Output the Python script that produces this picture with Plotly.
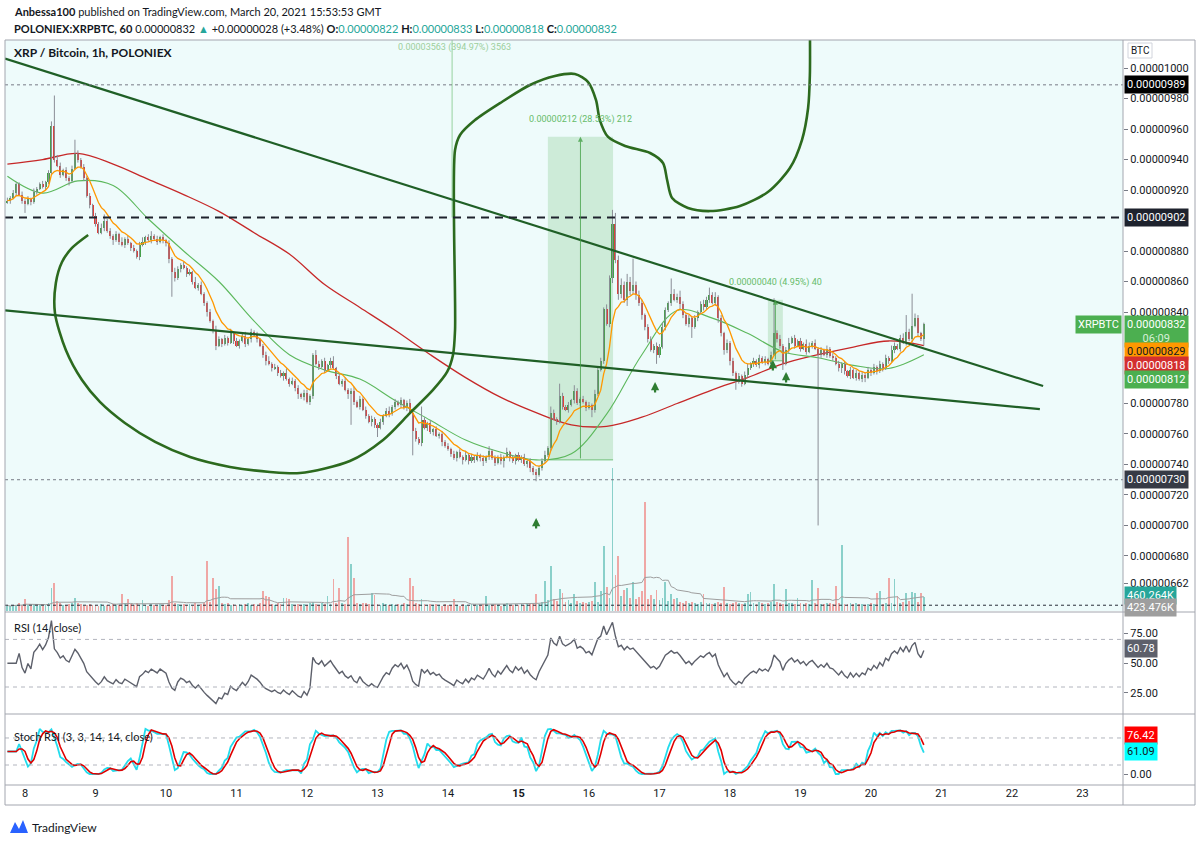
import numpy as np
import pandas as pd
import plotly.graph_objects as go

W, H = 1200, 841
SAT = 1e-8
START = pd.Timestamp("2021-03-07 18:00")

# ---------------- data (prices in satoshi, 1 sat = 0.00000001 BTC) ----------------
first_open = 912
close = [
    913, 915, 918, 924, 917, 913,
    911, 914, 912, 919, 921, 924, 922, 925, 931, 962, 940, 936, 930, 933, 928, 926, 934, 944, 940, 935, 928, 916, 910, 903,
    898, 892, 895, 900, 893, 890, 887, 891, 886, 884, 888, 885, 882, 880, 876, 884, 886, 889, 887, 890, 888, 886, 889, 887,
    885, 875, 866, 862, 868, 871, 869, 865, 866, 860, 856, 858, 852, 846, 840, 834, 828, 818, 822, 819, 823, 820, 826, 821,
    818, 821, 824, 819, 822, 827, 825, 822, 818, 812, 808, 806, 803, 804, 800, 798, 800, 796, 793, 795, 790, 786, 784, 787,
    781, 785, 812, 806, 804, 808, 802, 805, 808, 803, 798, 793, 795, 789, 786, 788, 781, 778, 783, 776, 772, 768, 770, 766,
    764, 768, 772, 775, 773, 778, 781, 779, 782, 777, 780, 774, 762, 757, 754, 769, 764, 767, 761, 763, 759, 760, 755, 752,
    750, 747, 744, 748, 745, 743, 746, 742, 745, 743, 746, 744, 742, 745, 749, 744, 741, 745, 742, 745, 748, 744, 742, 746,
    743, 745, 740, 742, 738, 735, 733, 738, 742, 746, 751, 774, 770, 768, 785, 778, 776, 779, 782, 788, 780, 783, 781, 777,
    779, 776, 786, 802, 808, 842, 832, 862, 898, 874, 852, 858, 848, 860, 854, 858, 851, 846, 838, 830, 822, 815, 818, 812,
    817, 830, 841, 846, 852, 848, 850, 845, 838, 832, 836, 830, 836, 840, 845, 843, 848, 851, 846, 850, 836, 826, 815, 820,
    808, 800, 794, 798, 793, 799, 803, 806, 808, 805, 810, 807, 809, 806, 812, 826, 822, 818, 806, 815, 820, 823, 818, 821,
    816, 819, 814, 818, 820, 816, 812, 815, 812, 816, 811, 810, 806, 803, 806, 801, 798, 802, 797, 800, 796, 799, 797, 802,
    800, 804, 801, 806, 803, 810, 808, 815, 818, 816, 823, 820, 827, 822, 831, 836, 826, 822, 832,
]
wick_up = [
    2, 1, 2, 1, 1, 2,
    1, 2, 1, 2, 1, 1, 2, 1, 2, 3, 20, 3, 2, 1, 2, 1, 2, 9, 2, 1, 2, 1, 2, 1,
    2, 1, 3, 4, 1, 2, 1, 2, 1, 3, 1, 2, 1, 2, 1, 2, 3, 1, 2, 3, 1, 2, 1, 2,
    1, 2, 1, 3, 2, 1, 2, 1, 2, 1, 3, 1, 2, 1, 1, 2, 1, 3, 2, 1, 2, 1, 3, 1,
    2, 1, 2, 3, 1, 2, 1, 2, 1, 1, 2, 3, 1, 2, 1, 2, 1, 3, 1, 2, 1, 2, 1, 2,
    2, 1, 1, 3, 2, 1, 2, 1, 2, 3, 1, 2, 1, 2, 1, 2, 3, 1, 2, 1, 2, 1, 2, 1,
    1, 2, 1, 2, 3, 1, 2, 1, 2, 1, 2, 3, 1, 2, 1, 9, 2, 1, 2, 1, 2, 1, 2, 1,
    2, 1, 2, 1, 2, 1, 3, 1, 2, 1, 2, 1, 2, 1, 3, 1, 2, 1, 2, 1, 3, 1, 2, 1,
    2, 1, 2, 1, 2, 1, 2, 1, 2, 3, 1, 4, 2, 1, 8, 2, 1, 2, 1, 4, 2, 1, 2, 1,
    2, 1, 3, 2, 2, 1, 3, 2, 9, 7, 3, 4, 2, 5, 3, 17, 2, 3, 2, 1, 2, 2, 1, 2,
    2, 3, 2, 1, 10, 3, 2, 4, 2, 1, 2, 1, 2, 1, 2, 3, 2, 5, 2, 3, 1, 2, 1, 2,
    1, 2, 1, 2, 1, 2, 3, 1, 2, 1, 2, 1, 2, 1, 2, 23, 2, 3, 1, 2, 3, 1, 2, 1,
    2, 1, 3, 2, 1, 2, 1, 2, 1, 2, 1, 2, 1, 2, 1, 2, 1, 2, 1, 2, 1, 2, 1, 2,
    1, 2, 1, 2, 1, 2, 1, 3, 2, 1, 2, 3, 11, 2, 21, 3, 2, 1, 1,
]
wick_dn = [
    1, 2, 1, 2, 1, 2,
    6, 1, 2, 1, 2, 1, 1, 2, 1, 1, 2, 1, 2, 1, 2, 3, 1, 1, 2, 1, 2, 1, 2, 1,
    2, 1, 1, 2, 1, 2, 3, 1, 2, 1, 2, 1, 2, 1, 1, 2, 1, 2, 1, 2, 1, 2, 1, 2,
    2, 3, 16, 2, 1, 2, 1, 2, 1, 2, 1, 2, 1, 2, 3, 1, 2, 3, 1, 2, 1, 2, 1, 2,
    1, 2, 1, 2, 1, 2, 1, 2, 1, 2, 3, 1, 2, 1, 2, 1, 3, 1, 2, 1, 2, 3, 1, 2,
    1, 2, 2, 1, 2, 1, 2, 1, 2, 1, 2, 1, 2, 1, 3, 20, 2, 1, 2, 1, 2, 1, 3, 2,
    6, 1, 2, 1, 2, 1, 2, 1, 2, 1, 2, 1, 16, 2, 1, 2, 1, 2, 1, 2, 1, 2, 3, 1,
    1, 2, 1, 2, 1, 3, 1, 2, 1, 2, 1, 2, 3, 1, 2, 1, 2, 1, 2, 4, 1, 2, 1, 2,
    1, 2, 1, 2, 3, 2, 4, 1, 2, 1, 1, 2, 1, 2, 1, 2, 1, 2, 1, 2, 1, 2, 1, 2,
    1, 5, 2, 1, 1, 2, 1, 2, 3, 2, 4, 3, 2, 4, 3, 2, 3, 2, 3, 2, 2, 1, 2, 6,
    2, 1, 2, 1, 2, 1, 2, 3, 2, 1, 2, 7, 1, 2, 1, 2, 1, 2, 1, 2, 3, 2, 3, 2,
    3, 2, 5, 1, 2, 1, 2, 1, 2, 1, 2, 1, 2, 1, 2, 1, 2, 2, 4, 1, 2, 1, 2, 1,
    2, 1, 2, 1, 2, 1, 112, 2, 1, 2, 1, 2, 1, 2, 3, 2, 1, 2, 1, 2, 1, 2, 3, 1,
    2, 1, 2, 1, 2, 1, 2, 1, 2, 1, 2, 1, 2, 1, 2, 1, 2, 1, 4,
]
volume_k = [
    180, 150, 210, 170, 260, 200,
    400, 190, 160, 220, 180, 240, 170, 200, 260, 760, 920, 330, 250, 210, 190, 230, 260, 430, 280, 220, 180, 200, 240, 210,
    190, 170, 230, 180, 200, 160, 240, 190, 210, 560, 260, 400, 220, 190, 250, 200, 360, 210, 180, 230, 200, 170, 220, 190,
    210, 360, 1150, 260, 230, 190, 240, 200, 230, 180, 260, 210, 240, 280, 1650, 300, 1090, 730, 820, 260, 220, 250, 210, 230,
    200, 240, 190, 220, 260, 200, 230, 180, 250, 660, 500, 460, 230, 210, 260, 230, 430, 430, 400, 220, 200, 240, 190, 230,
    210, 250, 300, 230, 200, 260, 220, 500, 240, 1050, 280, 760, 250, 230, 2440, 1550, 1090, 260, 230, 280, 250, 220, 590, 530,
    240, 200, 260, 220, 190, 240, 210, 230, 200, 250, 220, 1090, 820, 260, 230, 400, 220, 190, 240, 200, 230, 210, 180, 220,
    200, 190, 400, 210, 180, 230, 200, 170, 220, 190, 210, 180, 240, 500, 210, 190, 230, 200, 180, 220, 260, 210, 190, 230,
    210, 240, 200, 280, 230, 260, 560, 240, 300, 990, 350, 1480, 400, 330, 730, 590, 300, 350, 280, 560, 320, 260, 300, 280,
    310, 340, 960, 300, 660, 2150, 790, 420, 4720, 1190, 1820, 500, 690, 760, 420, 960, 380, 450, 660, 3600, 400, 530, 380, 690,
    350, 420, 960, 330, 560, 380, 430, 300, 280, 320, 260, 300, 280, 240, 300, 560, 260, 280, 230, 250, 300, 270, 790, 260,
    240, 280, 300, 260, 230, 250, 560, 630, 280, 240, 300, 260, 230, 270, 290, 890, 300, 260, 240, 730, 280, 260, 230, 430,
    250, 220, 270, 240, 1020, 260, 760, 240, 230, 280, 250, 220, 820, 260, 2180, 240, 220, 270, 230, 250, 220, 240, 200, 230,
    250, 220, 590, 660, 240, 270, 1090, 250, 1050, 500, 280, 300, 590, 330, 630, 590, 300, 590, 460,
]
assert len(close) == len(wick_up) == len(wick_dn) == len(volume_k) == 313

# moving averages every 12 hours
ma_hours = [0, 12, 24, 36, 48, 60, 72, 84, 96, 108, 120, 132, 144, 156, 168, 180, 192, 204, 216, 228, 240, 252, 264, 276, 288, 300, 312]
ma_green = [929, 918, 926, 923, 901, 880, 860, 834, 812, 802, 796, 782, 769, 756, 748, 743, 747, 773, 812, 841, 836, 826, 814, 810, 805, 803, 812]
ma_red = [937, 940, 944, 937, 927, 917, 906, 892, 878, 858, 843, 828, 812, 797, 784, 774, 766, 765, 771, 780, 789, 797, 806, 812, 817, 821, 818]

price_ticks = [1000, 980, 960, 940, 920, 880, 860, 840, 780, 760, 740, 720, 700, 680, 662]
rsi_ticks = [25, 50, 75]
stoch_ticks = [0]
day_ticks = list(range(8, 24))

# drawings (hour offset from START, price in sat)
h_levels = [989, 902, 730]
upper_trend_hours = [-0.8, 352.6]
upper_trend_price = [1006.2, 791.5]
lower_trend_hours = [-0.8, 351.5]
lower_trend_price = [841.1, 776.3]
brush_hours = [27.5, 22.0, 18.6, 16.5, 16.2, 19.9, 25.4, 31.5, 40.0, 50.3, 62.2, 75.8, 89.4, 99.6, 116.6, 127.9,
               137.1, 144.9, 149.7, 151.7, 152.4, 152.4, 154.1, 159.2, 167.7, 177.9, 186.4, 193.2, 197.7, 200.4,
               201.7, 204.5, 210.3, 218.8, 223.2, 224.6, 226.3, 231.7, 239.2, 249.4, 258.9, 266.4, 270.5, 272.6,
               273.2, 273.2]
brush_price = [890.5, 882.0, 872.8, 859.0, 839.3, 815.1, 795.4, 781.0, 767.2, 754.8, 744.9, 738.4, 735.1, 734.4, 742.3, 756.1,
               773.8, 788.9, 800.7, 811.8, 828.2, 946.2, 956.1, 965.9, 977.0, 988.9, 994.8, 996.1, 990.8, 979.0,
               965.9, 954.8, 948.9, 944.3, 937.7, 926.6, 914.8, 908.2, 906.2, 909.5, 918.7, 934.4, 952.8, 973.8,
               995.4, 1030.0]
arrow_hours = [180.0, 220.5, 260.6, 265.1]
arrow_price = [704.9, 794.1, 808.5, 800.7]
measure_h0 = [184.0, 258.9]
measure_h1 = [206.2, 264.0]
measure_p0 = [743, 808]
measure_p1 = [955, 848]
measure_text = ["0.00000212 (28.53%) 212", "0.00000040 (4.95%) 40"]
big_measure_hour = 151.4
big_measure_p = [902, 4465]
big_measure_text = "0.00003563 (394.97%) 3563"

# ---------------- derived series ----------------
n = len(close)
def t(h):
    return START + pd.to_timedelta(h, unit="h")

times = START + pd.to_timedelta(np.arange(n), unit="h")
c = np.array(close, float)
o = np.concatenate([[first_open], c[:-1]])
hi = np.maximum(o, c) + np.array(wick_up)
lo = np.minimum(o, c) - np.array(wick_dn)
up = c >= o

s = pd.Series(c)
ema_fast = s.ewm(span=9, adjust=False).mean()
d = s.diff().fillna(0)
gain = d.clip(lower=0).ewm(alpha=1 / 14, adjust=False).mean()
loss = (-d.clip(upper=0)).ewm(alpha=1 / 14, adjust=False).mean()
rsi = (100 - 100 / (1 + gain / loss.replace(0, np.nan))).fillna(50)
rmin = rsi.rolling(14, min_periods=1).min()
rmax = rsi.rolling(14, min_periods=1).max()
stoch = (100 * (rsi - rmin) / (rmax - rmin).replace(0, np.nan)).fillna(50)
k_line = stoch.rolling(3, min_periods=1).mean()
d_line = k_line.rolling(3, min_periods=1).mean()
vol = pd.Series(volume_k, dtype=float)
vol_ma = vol.rolling(20, min_periods=1).mean()

# ---------------- geometry helpers (pixel -> paper) ----------------
def PX(x):
    return x / W

def PY(y):
    return 1 - y / H

X_DOM = [PX(5), PX(1123)]
X_RANGE = [t(-0.81), t(379.8)]
FONT = "Roboto, Arial, sans-serif"
HFONT = "Lato, Arial, sans-serif"
TXT = "#131722"
UPC, DNC = "#43a047", "#e53935"
HOUR_MS = 3600 * 1000

fig = go.Figure()

# volume
vcol = ["rgba(38,166,154,0.5)" if u else "rgba(239,83,80,0.5)" for u in up]
fig.add_trace(go.Bar(x=times, y=vol, marker_color=vcol, marker_line_width=0,
                     width=0.62 * HOUR_MS, offset=-0.31 * HOUR_MS, xaxis="x", yaxis="y4"))
fig.add_trace(go.Scatter(x=times, y=vol_ma, mode="lines", line=dict(color="#9e9e9e", width=1),
                         xaxis="x", yaxis="y4"))

# moving averages
fig.add_trace(go.Scatter(x=t(np.array(ma_hours, float)), y=np.array(ma_red) * SAT, mode="lines",
                         line=dict(color="#c62828", width=1.3, shape="spline"), xaxis="x", yaxis="y"))
fig.add_trace(go.Scatter(x=t(np.array(ma_hours, float)), y=np.array(ma_green) * SAT, mode="lines",
                         line=dict(color="#5cb85c", width=1.1, shape="spline"), xaxis="x", yaxis="y"))

# wicks
wx, wy = [], []
for tt, h_, l_ in zip(times, hi, lo):
    wx += [tt, tt, None]
    wy += [l_ * SAT, h_ * SAT, None]
fig.add_trace(go.Scatter(x=wx, y=wy, mode="lines", line=dict(color="#8a8d96", width=1),
                         xaxis="x", yaxis="y", connectgaps=False))
# bodies
body = np.maximum(np.abs(c - o), 0.6)
fig.add_trace(go.Bar(x=times, y=body * SAT, base=np.minimum(o, c) * SAT,
                     marker_color=[UPC if u else DNC for u in up], marker_line_width=0,
                     width=0.7 * HOUR_MS, offset=-0.35 * HOUR_MS, xaxis="x", yaxis="y"))
fig.add_trace(go.Scatter(x=times, y=ema_fast * SAT, mode="lines",
                         line=dict(color="#ff9800", width=1.3), xaxis="x", yaxis="y"))

# brush drawing and trend lines
fig.add_trace(go.Scatter(x=t(np.array(brush_hours)), y=np.array(brush_price) * SAT, mode="lines",
                         line=dict(color="#2c6a1e", width=2.6, shape="spline", smoothing=0.8),
                         xaxis="x", yaxis="y"))
for hh, pp in [(upper_trend_hours, upper_trend_price), (lower_trend_hours, lower_trend_price)]:
    fig.add_trace(go.Scatter(x=t(np.array(hh)), y=np.array(pp) * SAT, mode="lines",
                             line=dict(color="#1f5f26", width=2.2), xaxis="x", yaxis="y"))

# RSI
fig.add_trace(go.Scatter(x=times, y=rsi, mode="lines", line=dict(color="#5d606b", width=1.4),
                         xaxis="x2", yaxis="y2"))
# Stoch RSI
fig.add_trace(go.Scatter(x=times, y=k_line, mode="lines", line=dict(color="#22dcec", width=1.8),
                         xaxis="x3", yaxis="y3"))
fig.add_trace(go.Scatter(x=times, y=d_line, mode="lines", line=dict(color="#e00000", width=1.6),
                         xaxis="x3", yaxis="y3"))

# ---------------- shapes ----------------
shapes = []
line_gray = "#a3a6af"
# price pane background
shapes.append(dict(type="rect", xref="paper", yref="paper", x0=PX(5), x1=PX(1123), y0=PY(611), y1=PY(40),
                   fillcolor="#eefbfb", line_width=0, layer="below"))
# horizontal levels
lv_style = {989: dict(color="#787b86", width=1, dash="3px,3px"),
            902: dict(color="#1e222d", width=2, dash="8px,6px"),
            730: dict(color="#787b86", width=1, dash="3px,3px")}
for lv in h_levels:
    shapes.append(dict(type="line", xref="x domain", yref="y", x0=0, x1=1, y0=lv * SAT, y1=lv * SAT,
                       line=lv_style[lv]))
# volume price line
shapes.append(dict(type="line", xref="x domain", yref="y4", x0=0, x1=1, y0=190, y1=190,
                   line=dict(color="#2a2e39", width=1, dash="3px,3px")))
# measure boxes
for h0, h1, p0, p1 in zip(measure_h0, measure_h1, measure_p0, measure_p1):
    shapes.append(dict(type="rect", xref="x", yref="y", x0=t(h0), x1=t(h1), y0=p0 * SAT, y1=p1 * SAT,
                       fillcolor="rgba(76,175,80,0.2)", line_width=0, layer="below"))
    shapes.append(dict(type="line", xref="x", yref="y", x0=t(h0), x1=t(h1), y0=p0 * SAT, y1=p0 * SAT,
                       line=dict(color="rgba(76,175,80,0.7)", width=1)))
shapes.append(dict(type="line", xref="x", yref="y", x0=t(big_measure_hour), x1=t(big_measure_hour),
                   y0=big_measure_p[0] * SAT, y1=big_measure_p[1] * SAT,
                   line=dict(color="rgba(76,175,80,0.45)", width=1.2)))
# RSI / stoch guides
for v in (70, 30):
    shapes.append(dict(type="line", xref="x2 domain", yref="y2", x0=0, x1=1, y0=v, y1=v,
                       line=dict(color="#b2b5be", width=1, dash="4px,4px")))
for v in (80, 20):
    shapes.append(dict(type="line", xref="x3 domain", yref="y3", x0=0, x1=1, y0=v, y1=v,
                       line=dict(color="#b2b5be", width=1, dash="4px,4px")))
# frame
def pline(x0, y0, x1, y1, col=line_gray, w=1):
    shapes.append(dict(type="line", xref="paper", yref="paper", x0=PX(x0), x1=PX(x1), y0=PY(y0), y1=PY(y1),
                       line=dict(color=col, width=w)))
pline(5, 40, 1195, 40)
pline(5, 40, 5, 805)
pline(1195, 40, 1195, 805)
pline(5, 805, 1195, 805)
pline(1123, 40, 1123, 805)
pline(5, 612, 1195, 612)
pline(5, 714, 1195, 714)
pline(5, 785, 1195, 785)
# TradingView logo
logo = [(10, 833), (15, 822), (19, 829), (23, 820), (28, 833)]
path = "M " + " L ".join(f"{PX(x)},{PY(y)}" for x, y in logo) + " Z"
shapes.append(dict(type="path", xref="paper", yref="paper", path=path, fillcolor="#2962ff", line_width=0))
# BTC box
shapes.append(dict(type="rect", xref="paper", yref="paper", x0=PX(1128), x1=PX(1152), y0=PY(58), y1=PY(43),
                   line=dict(color="#d1d4dc", width=1), fillcolor="white"))

# ---------------- annotations ----------------
ann = []
def ptext(x, y, text, size=12, color=TXT, font=HFONT, anchor="left"):
    ann.append(dict(x=PX(x), y=PY(y), xref="paper", yref="paper", text=text, showarrow=False,
                    xanchor=anchor, yanchor="middle", font=dict(family=font, size=size, color=color)))

G = "#26a69a"
ptext(12, 11, "<b>Anbessa100</b> published on TradingView.com, March 20, 2021 15:53:53 GMT", 11)
ptext(12, 29, "<b>POLONIEX:XRPBTC, 60</b> 0.00000832 <span style='color:%s'>▲</span> +0.00000028 (+3.48%%) "
      "<b>O:</b><span style='color:%s'>0.00000822</span> <b>H:</b><span style='color:%s'>0.00000833</span> "
      "<b>L:</b><span style='color:%s'>0.00000818</span> <b>C:</b><span style='color:%s'>0.00000832</span>"
      % (G, G, G, G, G), 11)
ptext(12, 52, "<b>XRP / Bitcoin, 1h, POLONIEX</b>", 12)
ptext(12, 627, "RSI (14, close)", 11)
ptext(12, 736, "Stoch RSI (3, 3, 14, 14, close)", 11)
ptext(30, 827, "TradingView", 12)
ptext(1140, 51, "BTC", 10, anchor="center", font=FONT)
ptext(454, 48, big_measure_text, 9, color="#9ccf9c", anchor="center", font=FONT)

for h0, h1, p0, p1, txt in zip(measure_h0, measure_h1, measure_p0, measure_p1, measure_text):
    hm = (h0 + h1) / 2
    ann.append(dict(x=t(hm), y=p1 * SAT, xref="x", yref="y", text=txt, showarrow=False, yanchor="bottom",
                    yshift=10, font=dict(family=FONT, size=9, color="#66bb6a")))
    ann.append(dict(x=t(hm), y=p1 * SAT, ax=t(hm), ay=p0 * SAT, xref="x", yref="y", axref="x", ayref="y",
                    text="", showarrow=True, arrowhead=2, arrowsize=1, arrowwidth=1,
                    arrowcolor="rgba(67,160,71,0.8)", standoff=0))
for h_, p_ in zip(arrow_hours, arrow_price):
    ann.append(dict(x=t(h_), y=p_ * SAT, xref="x", yref="y", text="", showarrow=True, ax=0, ay=12,
                    arrowhead=2, arrowsize=0.75, arrowwidth=2.2, arrowcolor="#2e7d32", standoff=0))

def axlabel(yval, yref, text, bg, fg="white", shift=0, x=1124, anchor="left"):
    ann.append(dict(x=PX(x), y=yval, xref="paper", yref=yref, text=text, showarrow=False, xanchor=anchor,
                    yanchor="middle", yshift=shift, bgcolor=bg, borderpad=2,
                    font=dict(family=FONT, size=11, color=fg)))

axlabel(989 * SAT, "y", "0.00000989", "#000000")
axlabel(902 * SAT, "y", "0.00000902", "#1e222d")
axlabel(730 * SAT, "y", "0.00000730", "#363a45")
axlabel(832 * SAT, "y", "0.00000832<br><span style='color:#d7f0d8'>06:09</span>", "#4caf50", shift=-7)
axlabel(832 * SAT, "y", "XRPBTC", "#4caf50", x=1122, anchor="right")
axlabel(829 * SAT, "y", "<span style='color:#131722'>0.00000829</span>", "#ff9800", shift=-23)
axlabel(818 * SAT, "y", "0.00000818", "#d32f2f", shift=-20)
axlabel(812 * SAT, "y", "0.00000812", "#4caf50", shift=-25)
axlabel(460, "y4", "460.264K", "#26a69a", shift=2)
axlabel(423, "y4", "423.476K", "#9e9e9e", shift=-9)
axlabel(60.78, "y2", "60.78", "#5d606b", shift=2)
axlabel(76.42, "y3", "76.42", "#ff0000", shift=4)
axlabel(61.09, "y3", "61.09", "#00ffff", fg="#131722", shift=-5)

# ---------------- layout ----------------
xcommon = dict(type="date", range=X_RANGE, domain=X_DOM, showgrid=False, zeroline=False, showline=False)
ycommon = dict(showgrid=False, zeroline=False, showline=False, side="right", ticks="outside", ticklen=4,
               tickcolor="#787b86", tickfont=dict(family=FONT, size=11, color=TXT))

fig.update_layout(
    width=W, height=H, margin=dict(l=0, r=0, t=0, b=0), paper_bgcolor="white", plot_bgcolor="white",
    showlegend=False, hovermode=False, bargap=0,
    xaxis=dict(**xcommon, anchor="y", showticklabels=False),
    xaxis2=dict(**xcommon, anchor="y2", matches="x", showticklabels=False),
    xaxis3=dict(**xcommon, anchor="y3", matches="x", ticks="",
                tickvals=[pd.Timestamp(2021, 3, dd) for dd in day_ticks],
                ticktext=[f"<b>{dd}</b>" if dd == 15 else str(dd) for dd in day_ticks],
                tickfont=dict(family=FONT, size=11, color=TXT)),
    yaxis=dict(**ycommon, domain=[PY(611), PY(40)], range=[643.9 * SAT, 1018.4 * SAT], anchor="x",
               tickvals=[v * SAT for v in price_ticks], tickformat=".8f"),
    yaxis2=dict(**ycommon, domain=[PY(712), PY(613)], range=[9, 92.2], anchor="x2",
                tickvals=rsi_ticks, tickformat=".2f"),
    yaxis3=dict(**ycommon, domain=[PY(785), PY(715)], range=[-24.4, 131], anchor="x3",
                tickvals=stoch_ticks, tickformat=".2f"),
    yaxis4=dict(overlaying="y", range=[0, 18800], visible=False, anchor="x", side="left"),
    shapes=shapes, annotations=ann,
)

fig.write_html("out.html")
